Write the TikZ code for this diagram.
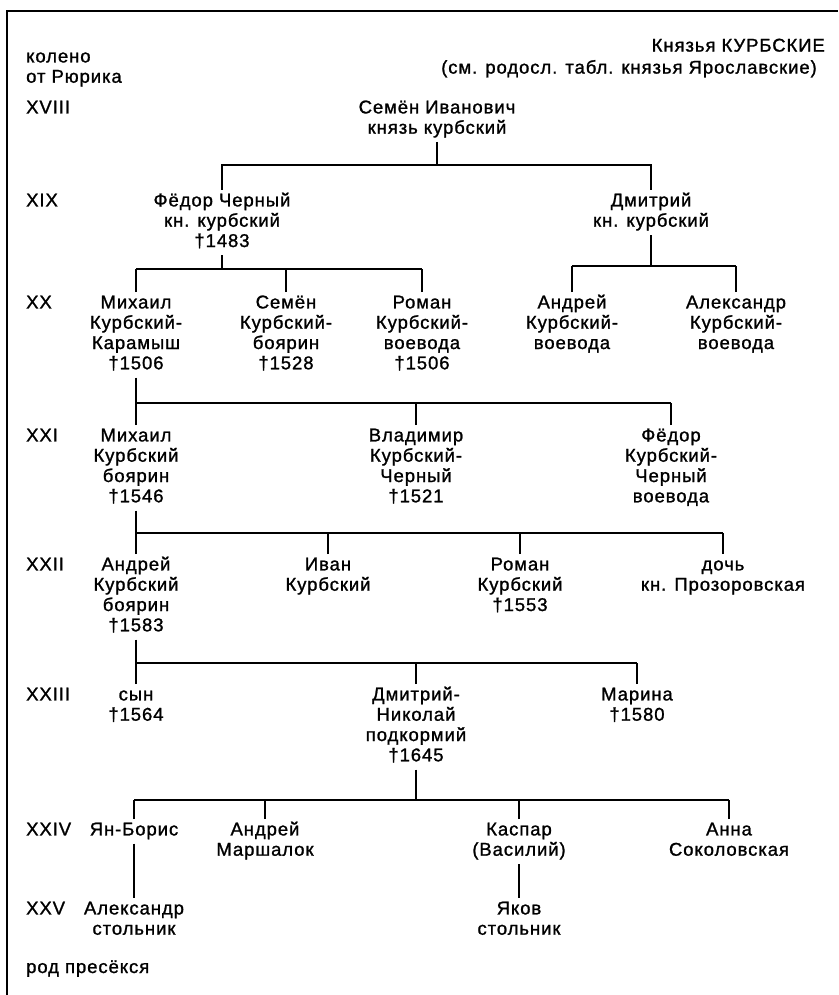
\documentclass[tikz,border=0pt]{standalone}
\usepackage{fontspec}
\setmainfont{Liberation Sans}[LetterSpace=5,FakeBold=1.2]
\usepackage{tikz}
\usetikzlibrary{positioning,calc}
\tikzset{
  every node/.style={font=\fontsize{18.5}{20.3}\selectfont},
  person/.style={align=center,anchor=north,inner xsep=0pt,inner ysep=2pt},
  gen/.style={align=left,anchor=north west,inner xsep=0pt,inner ysep=2pt},
  kin/.style={line width=1.3pt}
}

\begin{document}
\begin{tikzpicture}[x=1pt,y=-1pt]
  \useasboundingbox (0,0) rectangle (838,995);
  % frame (only top and left edge on the sheet)
  \draw[line width=1.8pt] (7,995) -- (7,11) -- (838,11);
  % heading
  \node[gen] (koleno) at (26,46) {\strut колено\\от Рюрика\strut};
  \node[anchor=base east,inner sep=0pt] (title) at (825,51.6) {Князья КУРБСКИЕ};
  \node[anchor=base east,inner sep=0pt] (seealso) at (817,73.6) {(см. родосл. табл. князья Ярославские)};
  \node[anchor=base west,inner sep=0pt] (end) at (26,973) {род пресёкся};
  % generations
  \foreach \g/\y in {XVIII/97, XIX/190, XX/292, XXI/425, XXII/554, XXIII/684, XXIV/819, XXV/898}
    \node[gen] (g\g) at (26,\y) {\strut\g\strut};
  % persons
  \node[person] (semen) at (437,97) {\strut Семён Иванович\\князь курбский\strut};
  \node[person] (fedor) at (222,190) {\strut Фёдор Черный\\кн. курбский\\†1483\strut};
  \node[person] (dmitry) at (651,190) {\strut Дмитрий\\кн. курбский\strut};
  \node[person] (karamysh) at (136,292) {\strut Михаил\\Курбский-\\Карамыш\\†1506\strut};
  \node[person] (semenb) at (286,292) {\strut Семён\\Курбский-\\боярин\\†1528\strut};
  \node[person] (romanv) at (422,292) {\strut Роман\\Курбский-\\воевода\\†1506\strut};
  \node[person] (andreiv) at (572,292) {\strut Андрей\\Курбский-\\воевода\strut};
  \node[person] (aleksv) at (736,292) {\strut Александр\\Курбский-\\воевода\strut};
  \node[person] (mikhail) at (136,425) {\strut Михаил\\Курбский\\боярин\\†1546\strut};
  \node[person] (vladimir) at (416,425) {\strut Владимир\\Курбский-\\Черный\\†1521\strut};
  \node[person] (fedorc) at (671,425) {\strut Фёдор\\Курбский-\\Черный\\воевода\strut};
  \node[person] (andrei) at (136,554) {\strut Андрей\\Курбский\\боярин\\†1583\strut};
  \node[person] (ivan) at (328,554) {\strut Иван\\Курбский\strut};
  \node[person] (romank) at (520,554) {\strut Роман\\Курбский\\†1553\strut};
  \node[person] (doch) at (723,554) {\strut дочь\\кн. Прозоровская\strut};
  \node[person] (syn) at (136,684) {\strut сын\\†1564\strut};
  \node[person] (dmnik) at (416,684) {\strut Дмитрий-\\Николай\\подкормий\\†1645\strut};
  \node[person] (marina) at (637,684) {\strut Марина\\†1580\strut};
  \node[person] (yan) at (134,819) {\strut Ян-Борис\strut};
  \node[person] (andreim) at (265,819) {\strut Андрей\\Маршалок\strut};
  \node[person] (kaspar) at (519,819) {\strut Каспар\\(Василий)\strut};
  \node[person] (anna) at (729,819) {\strut Анна\\Соколовская\strut};
  \node[person] (aleks) at (134,898) {\strut Александр\\стольник\strut};
  \node[person] (yakov) at (519,898) {\strut Яков\\стольник\strut};
  % bus levels
  \coordinate (b18) at (0,165);
  \coordinate (b19) at (0,269);
  \coordinate (b19d) at (0,266);
  \coordinate (b20) at (0,403);
  \coordinate (b21) at (0,533);
  \coordinate (b22) at (0,663);
  \coordinate (b23) at (0,800);
  % descent lines
  \draw[kin] (semen.south) -- (semen.south |- b18);
  \draw[kin] (fedor.north) -- (fedor.north |- b18) -- (dmitry.north |- b18) -- (dmitry.north);
  \foreach \p/\b/\first/\last/\kids in {fedor/b19/karamysh/romanv/{karamysh,semenb,romanv},
      dmitry/b19d/andreiv/aleksv/{andreiv,aleksv},
      karamysh/b20/mikhail/fedorc/{mikhail,vladimir,fedorc},
      mikhail/b21/andrei/doch/{andrei,ivan,romank,doch},
      andrei/b22/syn/marina/{syn,dmnik,marina},
      dmnik/b23/yan/anna/{yan,andreim,kaspar,anna}} {
    \draw[kin] (\p.south) -- (\p.south |- \b);
    \draw[kin] (\first.north |- \b) -- (\last.north |- \b);
    \foreach \c in \kids \draw[kin] (\c.north) -- (\c.north |- \b);
  }
  \draw[kin] (yan.south) -- (aleks.north);
  \draw[kin] (kaspar.south) -- (yakov.north);
\end{tikzpicture}
\end{document}
